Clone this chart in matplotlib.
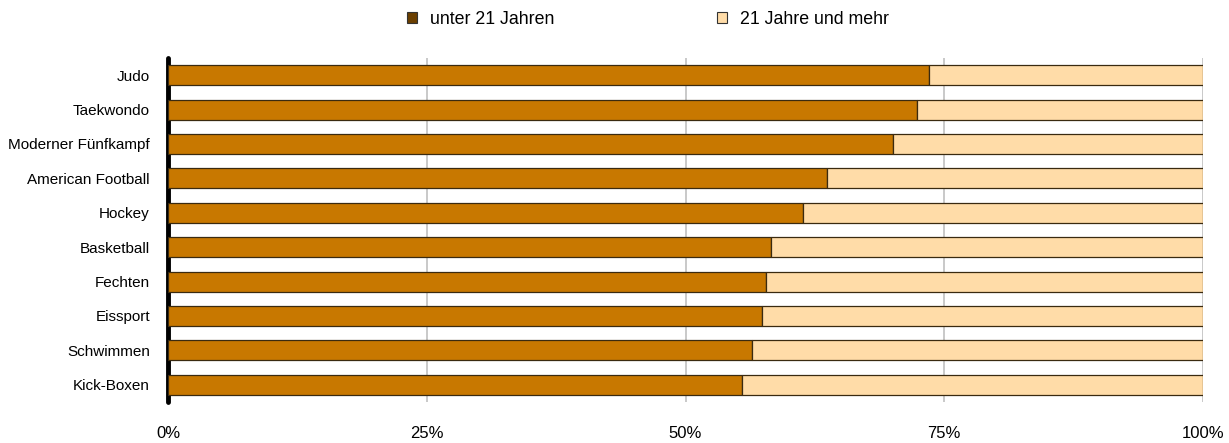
import matplotlib.pyplot as plt
from matplotlib.patches import Patch
from matplotlib.ticker import FuncFormatter

sports = ["Judo", "Taekwondo", "Moderner Fünfkampf", "American Football", "Hockey",
          "Basketball", "Fechten", "Eissport", "Schwimmen", "Kick-Boxen"]
under21 = [73.5, 72.4, 70.0, 63.7, 61.4, 58.3, 57.8, 57.4, 56.4, 55.5]
over21 = [100 - v for v in under21]
series_names = ["unter 21 Jahren", "21 Jahre und mehr"]

c_bar = "#C87800"
c_leg = "#6B3F00"
c_light = "#FFDCA8"

plt.rcParams["font.family"] = ["Liberation Sans", "DejaVu Sans"]

fig = plt.figure(figsize=(12.29, 4.43), dpi=100)
ax = fig.add_axes([168 / 1229, 1 - 402 / 443, (1203 - 168) / 1229, (402 - 58) / 443])

y = range(len(sports))
ax.barh(y, under21, height=0.58, color=c_bar, edgecolor="#3a2a10", linewidth=0.9, zorder=3)
ax.barh(y, over21, left=under21, height=0.58, color=c_light, edgecolor="#3a2a10",
        linewidth=0.9, zorder=3)

ax.set_xlim(0, 100)
ax.set_ylim(len(sports) - 0.5, -0.5)
ax.set_yticks(list(y))
ax.set_yticklabels(sports, fontsize=11)
ax.set_xticks([0, 25, 50, 75, 100])
ax.xaxis.set_major_formatter(FuncFormatter(lambda v, p: f"{v:.0f}%"))
ax.tick_params(axis="x", labelsize=12, length=0, pad=17)
ax.tick_params(axis="y", length=0, pad=13)
ax.grid(axis="x", color="#c0c0c0", linewidth=1.2, zorder=0)

for s in ["top", "right", "bottom"]:
    ax.spines[s].set_visible(False)
ax.spines["left"].set_linewidth(3.5)
ax.spines["left"].set_capstyle("round")

handles = [Patch(facecolor=c_leg, edgecolor="#333333", linewidth=0.8),
           Patch(facecolor=c_light, edgecolor="#333333", linewidth=0.8)]
fig.legend(handles, series_names, loc="center", bbox_to_anchor=(648 / 1229, 1 - 19 / 443),
           ncol=2, frameon=False, prop={"family": "Liberation Sans", "size": 12.8},
           handlelength=0.55, handleheight=0.55, handletextpad=0.7, columnspacing=9.2)

fig.savefig("out.png", dpi=100)
